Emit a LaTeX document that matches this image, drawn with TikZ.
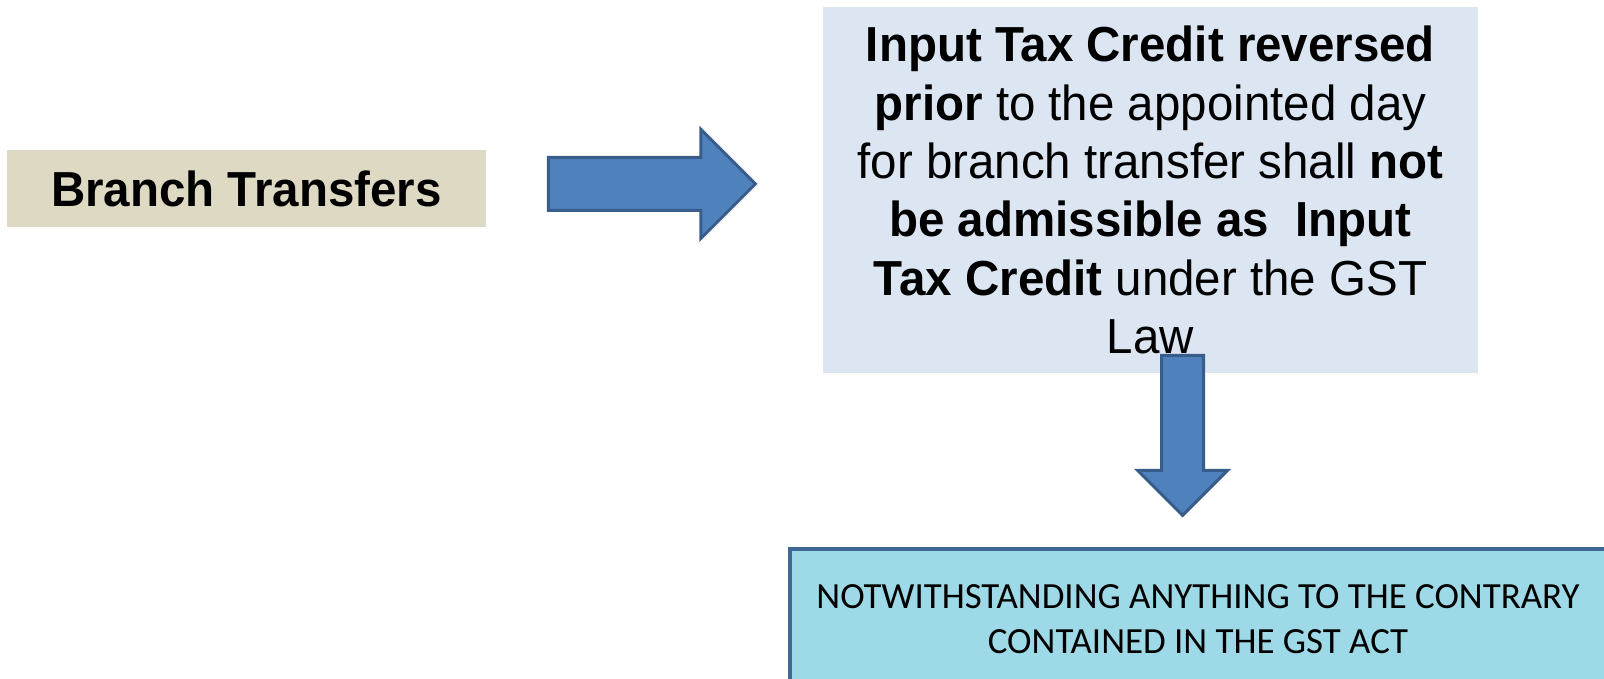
\documentclass[tikz,border=0pt]{standalone}
\usepackage{fontspec}
\setmainfont{Liberation Sans}
\newfontfamily\narrowarial[FakeStretch=0.965]{Liberation Sans}
\newfontfamily\carlito{Carlito}
\usetikzlibrary{shapes.arrows}
\definecolor{khaki}{HTML}{DDD9C3}
\definecolor{paleblue}{HTML}{DCE6F2}
\definecolor{arrowfill}{HTML}{4F81BD}
\definecolor{arrowline}{HTML}{385D8A}
\definecolor{cyanbox}{HTML}{9DD9E6}
\definecolor{cyanline}{HTML}{3E6796}
\tikzset{
  bigarrow/.style={single arrow,fill=arrowfill,draw=arrowline,line width=0.06cm,
    single arrow head extend=#1,anchor=tip},
  bigfont/.style={font=\narrowarial\fontsize{28}{33.2}\selectfont}
}
\begin{document}
\begin{tikzpicture}
\useasboundingbox (0,0) rectangle (32.08,13.58);
\node[fill=khaki,minimum width=9.58cm,minimum height=1.54cm,bigfont] (branch) at (4.93,9.81) {\bfseries Branch Transfers};
\node[fill=paleblue,minimum width=13.1cm,minimum height=7.32cm,align=center,bigfont] (itc) at (23.01,9.78)
  {\textbf{Input Tax Credit reversed}\\ \textbf{prior} to the appointed day\\ for branch transfer shall \textbf{not}\\
   \textbf{be admissible as \ Input}\\ \textbf{Tax Credit} under the GST\\ Law};
\node[bigarrow=0.56cm,inner sep=0.5cm,minimum height=4.14cm] (arrR) at (15.15,9.9) {};
\node[bigarrow=0.48cm,inner sep=0.39cm,minimum height=3.2cm,rotate=-90] (arrD) at (23.65,3.23) {};
\node[fill=cyanbox,draw=cyanline,line width=0.07cm,minimum width=16.32cm,minimum height=2.82cm,align=center,
  font=\carlito\fontsize{21}{25.6}\selectfont] (gst) at (23.96,1.19)
  {NOTWITHSTANDING ANYTHING TO THE CONTRARY\\ CONTAINED IN THE GST ACT};
\end{tikzpicture}
\end{document}
